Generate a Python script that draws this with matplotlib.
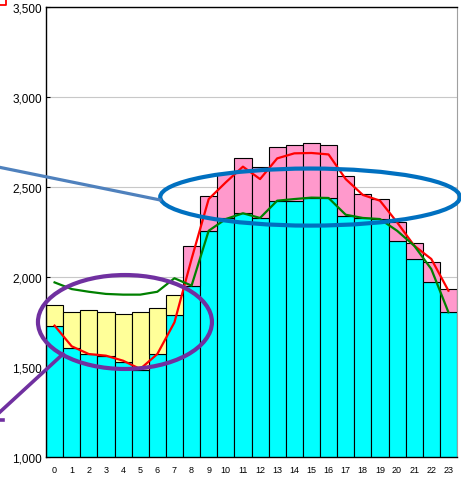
import numpy as np
import matplotlib
matplotlib.use("Agg")
import matplotlib.pyplot as plt
from matplotlib.patches import Ellipse
from matplotlib.lines import Line2D
from matplotlib.ticker import FuncFormatter

# dados
horas = list(range(24))
base = [1726, 1605, 1572, 1563, 1530, 1485, 1570, 1787, 1948, 2257, 2328, 2354,
        2328, 2424, 2424, 2439, 2439, 2341, 2326, 2322, 2202, 2100, 1970, 1804]
topo = [1844, 1804, 1815, 1807, 1793, 1807, 1830, 1900, 2170, 2448, 2576, 2659,
        2609, 2720, 2735, 2744, 2735, 2559, 2461, 2433, 2304, 2189, 2081, 1933]
linha_vermelha = [1730, 1615, 1572, 1563, 1535, 1489, 1572, 1748, 2100, 2433, 2526, 2613,
                  2544, 2659, 2687, 2689, 2681, 2544, 2456, 2424, 2304, 2174, 2100, 1924]
linha_verde = [1970, 1933, 1918, 1906, 1902, 1902, 1918, 1993, 1952, 2257, 2322, 2354,
               2328, 2424, 2433, 2441, 2439, 2346, 2328, 2322, 2257, 2174, 2044, 1804]
yticks = [1000, 1500, 2000, 2500, 3000, 3500]
n_amarelo = 8  # horas 0-7 em amarelo, resto em rosa

fonte = ['Liberation Sans Narrow', 'Liberation Sans', 'DejaVu Sans']

fig = plt.figure(figsize=(4.61, 4.81), dpi=100)
ax = fig.add_axes([46 / 461, 23 / 481, 411 / 461, 450 / 481])

x = np.array(horas)
base = np.array(base)
topo = np.array(topo)
cores_topo = ['#FFFF99' if h < n_amarelo else '#FF99CC' for h in horas]

ax.bar(x, base, width=1.0, color='#00FFFF', edgecolor='black', linewidth=0.8, zorder=2)
ax.bar(x, topo - base, bottom=base, width=1.0, color=cores_topo,
       edgecolor='black', linewidth=0.8, zorder=2)
ax.plot(x, linha_vermelha, color='#FF0000', linewidth=1.6, zorder=3)
ax.plot(x, linha_verde, color='#008000', linewidth=1.6, zorder=3)

ax.set_xlim(-0.5, 23.5)
ax.set_ylim(1000, 3500)
ax.set_yticks(yticks)
ax.yaxis.set_major_formatter(FuncFormatter(lambda v, p: "{:,.0f}".format(v)))
ax.set_xticks(x)
ax.set_xticklabels([str(h) for h in horas])
ax.grid(axis='y', color='#C8C8C8', linewidth=0.8, zorder=0)
ax.set_axisbelow(True)
ax.tick_params(axis='y', direction='in', length=3, pad=3, labelsize=8.5)
ax.tick_params(axis='x', length=0, pad=6, labelsize=6.5)
for lab in ax.get_xticklabels() + ax.get_yticklabels():
    lab.set_family(fonte)
ax.spines['right'].set_color('#A0A0A0')
for s in ['left', 'bottom', 'top']:
    ax.spines[s].set_color('black')
    ax.spines[s].set_linewidth(1.0)

# destaques (elipses e setas)
ax.add_patch(Ellipse((4.11, 1750), 10.16, 522, fill=False, edgecolor='#7030A0',
                     linewidth=3.0, zorder=4, clip_on=False))
ax.add_line(Line2D([0.49, -3.19], [1572, 1250], color='#7030A0', linewidth=2.6,
                   zorder=4, clip_on=False))
ax.add_line(Line2D([-3.15, -3.0], [1205, 1205], color='#7030A0', linewidth=2.6,
                   zorder=4, clip_on=False))
ax.add_patch(Ellipse((14.92, 2444), 17.5, 317, fill=False, edgecolor='#0070C0',
                     linewidth=3.0, zorder=4, clip_on=False))
ax.add_line(Line2D([-3.19, 6.16], [2609, 2428], color='#4F81BD', linewidth=2.3,
                   zorder=4, clip_on=False))

# canto da caixa vermelha
fig.add_artist(Line2D([0, 6 / 461, 6 / 461], [1 - 6 / 481, 1 - 6 / 481, 1],
                      color='red', linewidth=1.3, transform=fig.transFigure))

fig.savefig("out.png", dpi=100)
